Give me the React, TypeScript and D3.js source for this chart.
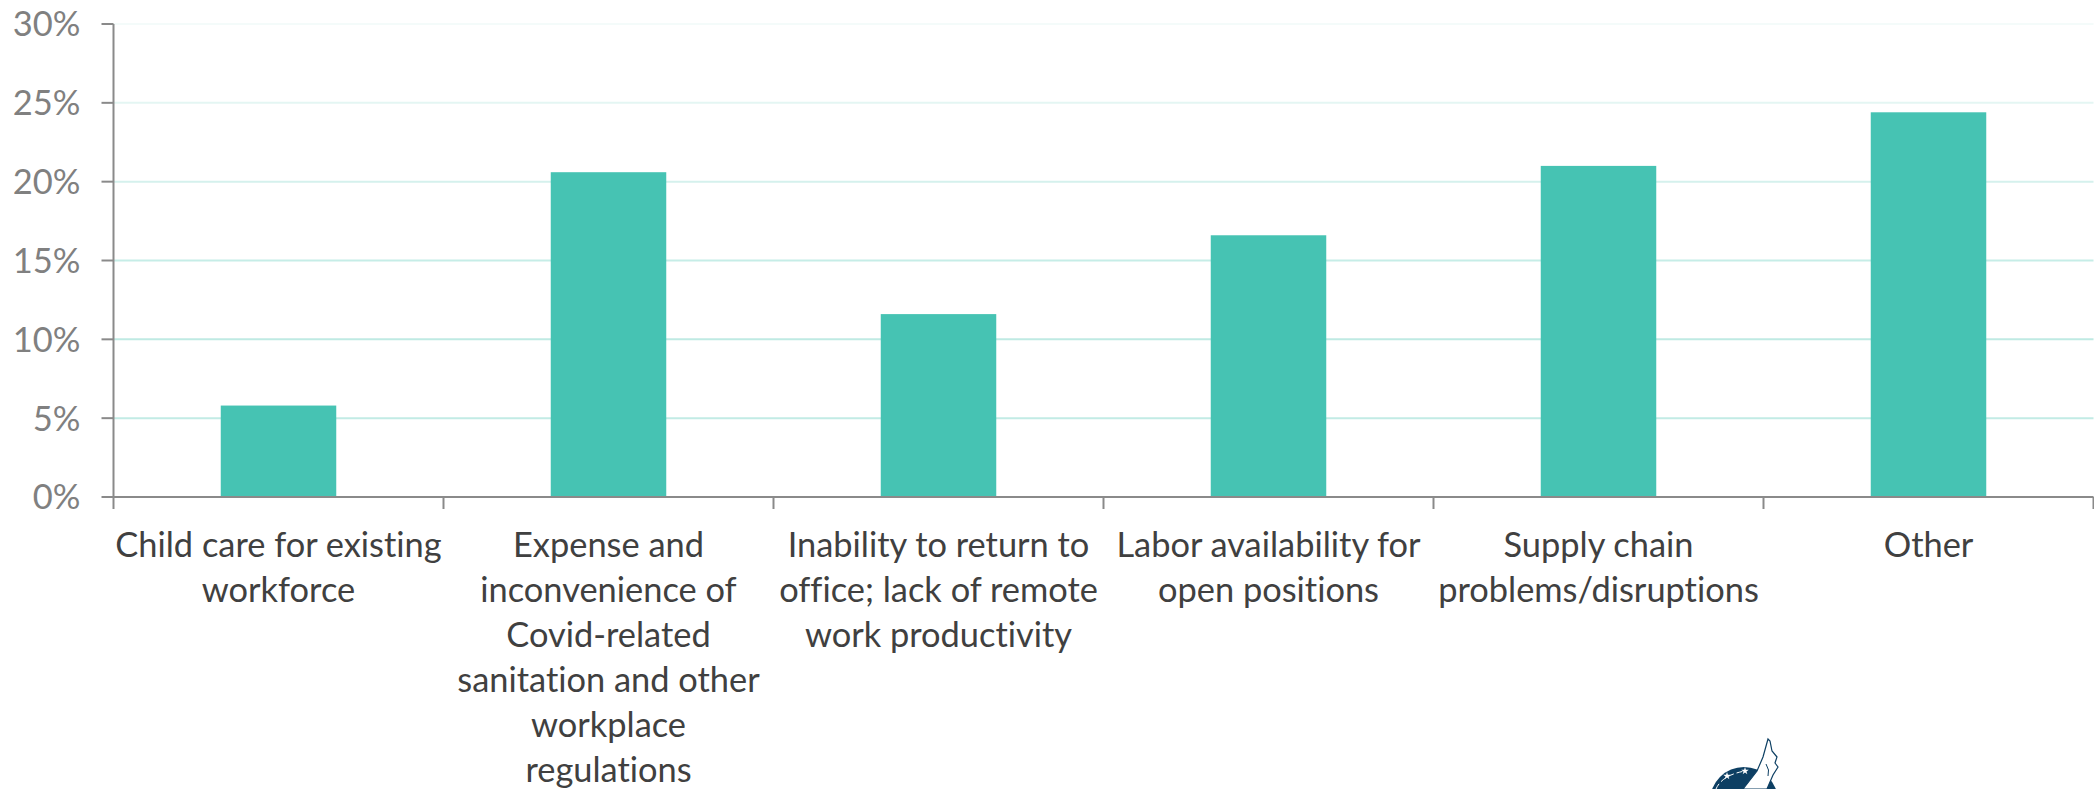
import { useEffect, useRef } from "react";
import * as d3 from "d3";

const width = 2094;
const height = 789;

const categories = [
  "Child care for existing workforce",
  "Expense and inconvenience of Covid-related sanitation and other workplace regulations",
  "Inability to return to office; lack of remote work productivity",
  "Labor availability for open positions",
  "Supply chain problems/disruptions",
  "Other",
];
const categoryLines = [
  ["Child care for existing", "workforce"],
  ["Expense and", "inconvenience of", "Covid-related", "sanitation and other", "workplace", "regulations"],
  ["Inability to return to", "office; lack of remote", "work productivity"],
  ["Labor availability for", "open positions"],
  ["Supply chain", "problems/disruptions"],
  ["Other"],
];
const shares = [5.8, 20.6, 11.6, 16.6, 21.0, 24.4];
const yTicks = [0, 5, 10, 15, 20, 25, 30];
const gridColors = ["#ffffff", "#c2ebe5", "#bfeae3", "#c6ede7", "#d5f1ed", "#e4f6f3", "#f4fbfa"];

const App = () => {
  const svgRef = useRef<SVGSVGElement>(null);

  useEffect(() => {
    const svg = d3.select(svgRef.current);
    svg.selectAll("*").remove();

    const marginLeft = 113.5;
    const marginTop = 24;
    const plotBottom = 497;
    const plotRight = 2093.5;
    const axisColor = "#8a8a8a";

    const x = d3
      .scaleBand()
      .domain(categories)
      .range([marginLeft, plotRight])
      .paddingInner(0.65)
      .paddingOuter(0.325);

    const y = d3.scaleLinear().domain([0, 30]).range([plotBottom, marginTop]);

    const grid = svg.append("g");
    yTicks.slice(1).forEach((t, i) => {
      grid
        .append("line")
        .attr("x1", marginLeft)
        .attr("x2", plotRight)
        .attr("y1", y(t))
        .attr("y2", y(t))
        .attr("stroke", gridColors[i + 1])
        .attr("stroke-width", 2);
    });

    svg
      .append("g")
      .selectAll("rect")
      .data(shares)
      .join("rect")
      .attr("x", (_, i) => x(categories[i]) as number)
      .attr("y", (d) => y(d))
      .attr("width", x.bandwidth())
      .attr("height", (d) => plotBottom - y(d))
      .attr("fill", "#46c3b3");

    // y axis
    const yAxis = svg
      .append("g")
      .attr("transform", `translate(${marginLeft},0)`)
      .call(
        d3
          .axisLeft(y)
          .tickValues(yTicks)
          .tickSize(12)
          .tickSizeOuter(0)
          .tickPadding(21)
          .offset(0)
          .tickFormat((d) => `${d}%`)
      );
    yAxis.select(".domain").attr("stroke", axisColor).attr("stroke-width", 2);
    yAxis.selectAll(".tick line").attr("stroke", axisColor).attr("stroke-width", 2);
    yAxis
      .selectAll("text")
      .attr("fill", "#808080")
      .attr("dy", "0.36em")
      .style("font-family", "Lato")
      .style("font-size", "34.5px");

    // x axis: ticks sit on the band edges, not the centres
    const step = x.step();
    const edges = d3.range(categories.length + 1).map((i) => marginLeft + i * step);
    const xAxis = svg.append("g");
    xAxis
      .append("line")
      .attr("x1", marginLeft)
      .attr("x2", plotRight)
      .attr("y1", plotBottom)
      .attr("y2", plotBottom)
      .attr("stroke", axisColor)
      .attr("stroke-width", 2);
    xAxis
      .selectAll("line.edge")
      .data(edges)
      .join("line")
      .attr("class", "edge")
      .attr("x1", (d) => d)
      .attr("x2", (d) => d)
      .attr("y1", plotBottom)
      .attr("y2", plotBottom + 12)
      .attr("stroke", axisColor)
      .attr("stroke-width", 2);

    const labels = svg
      .append("g")
      .selectAll("text")
      .data(categoryLines)
      .join("text")
      .attr("text-anchor", "middle")
      .attr("fill", "#404040")
      .style("font-family", "Lato")
      .style("font-size", "34.4px")
      .style("font-variant-ligatures", "none");
    labels
      .selectAll("tspan")
      .data((d, i) => d.map((line) => ({ line, i })))
      .join("tspan")
      .attr("x", (d) => (x(categories[d.i]) as number) + x.bandwidth() / 2)
      .attr("y", (_, j) => 557 + j * 45)
      .text((d) => d.line);

    // logo, cut off by the bottom of the picture
    const logoColor = "#0d3f63";
    const logo = svg.append("g");
    logo.append("circle").attr("cx", 1744).attr("cy", 801).attr("r", 34).attr("fill", logoColor);
    logo
      .append("path")
      .attr("d", "M1716 789 Q1722 775 1745 771")
      .attr("fill", "none")
      .attr("stroke", "#ffffff")
      .attr("stroke-width", 1)
      .attr("stroke-dasharray", "6 3");
    const star = d3.symbol().type(d3.symbolStar).size(18);
    [
      [1727, 776],
      [1745, 771],
    ].forEach(([sx, sy]) => {
      logo.append("path").attr("d", star()).attr("transform", `translate(${sx},${sy})`).attr("fill", "#ffffff");
    });
    logo
      .append("path")
      .attr("d", "M1743 789 L1757 771 L1763 757 L1768 739 L1770 741 L1772 751 L1777 757 L1775 763 L1778 767 L1773 775 L1767 789 Z")
      .attr("fill", "#ffffff")
      .attr("stroke", logoColor)
      .attr("stroke-width", 1.2);
    logo
      .append("path")
      .attr("d", "M1766 764 Q1770 770 1768 776")
      .attr("fill", "none")
      .attr("stroke", logoColor)
      .attr("stroke-width", 1);
  }, []);

  return (
    <svg
      ref={svgRef}
      width={width}
      height={height}
      style={{ position: "absolute", left: 0, top: 0, background: "#ffffff" }}
    />
  );
};

export default App;
